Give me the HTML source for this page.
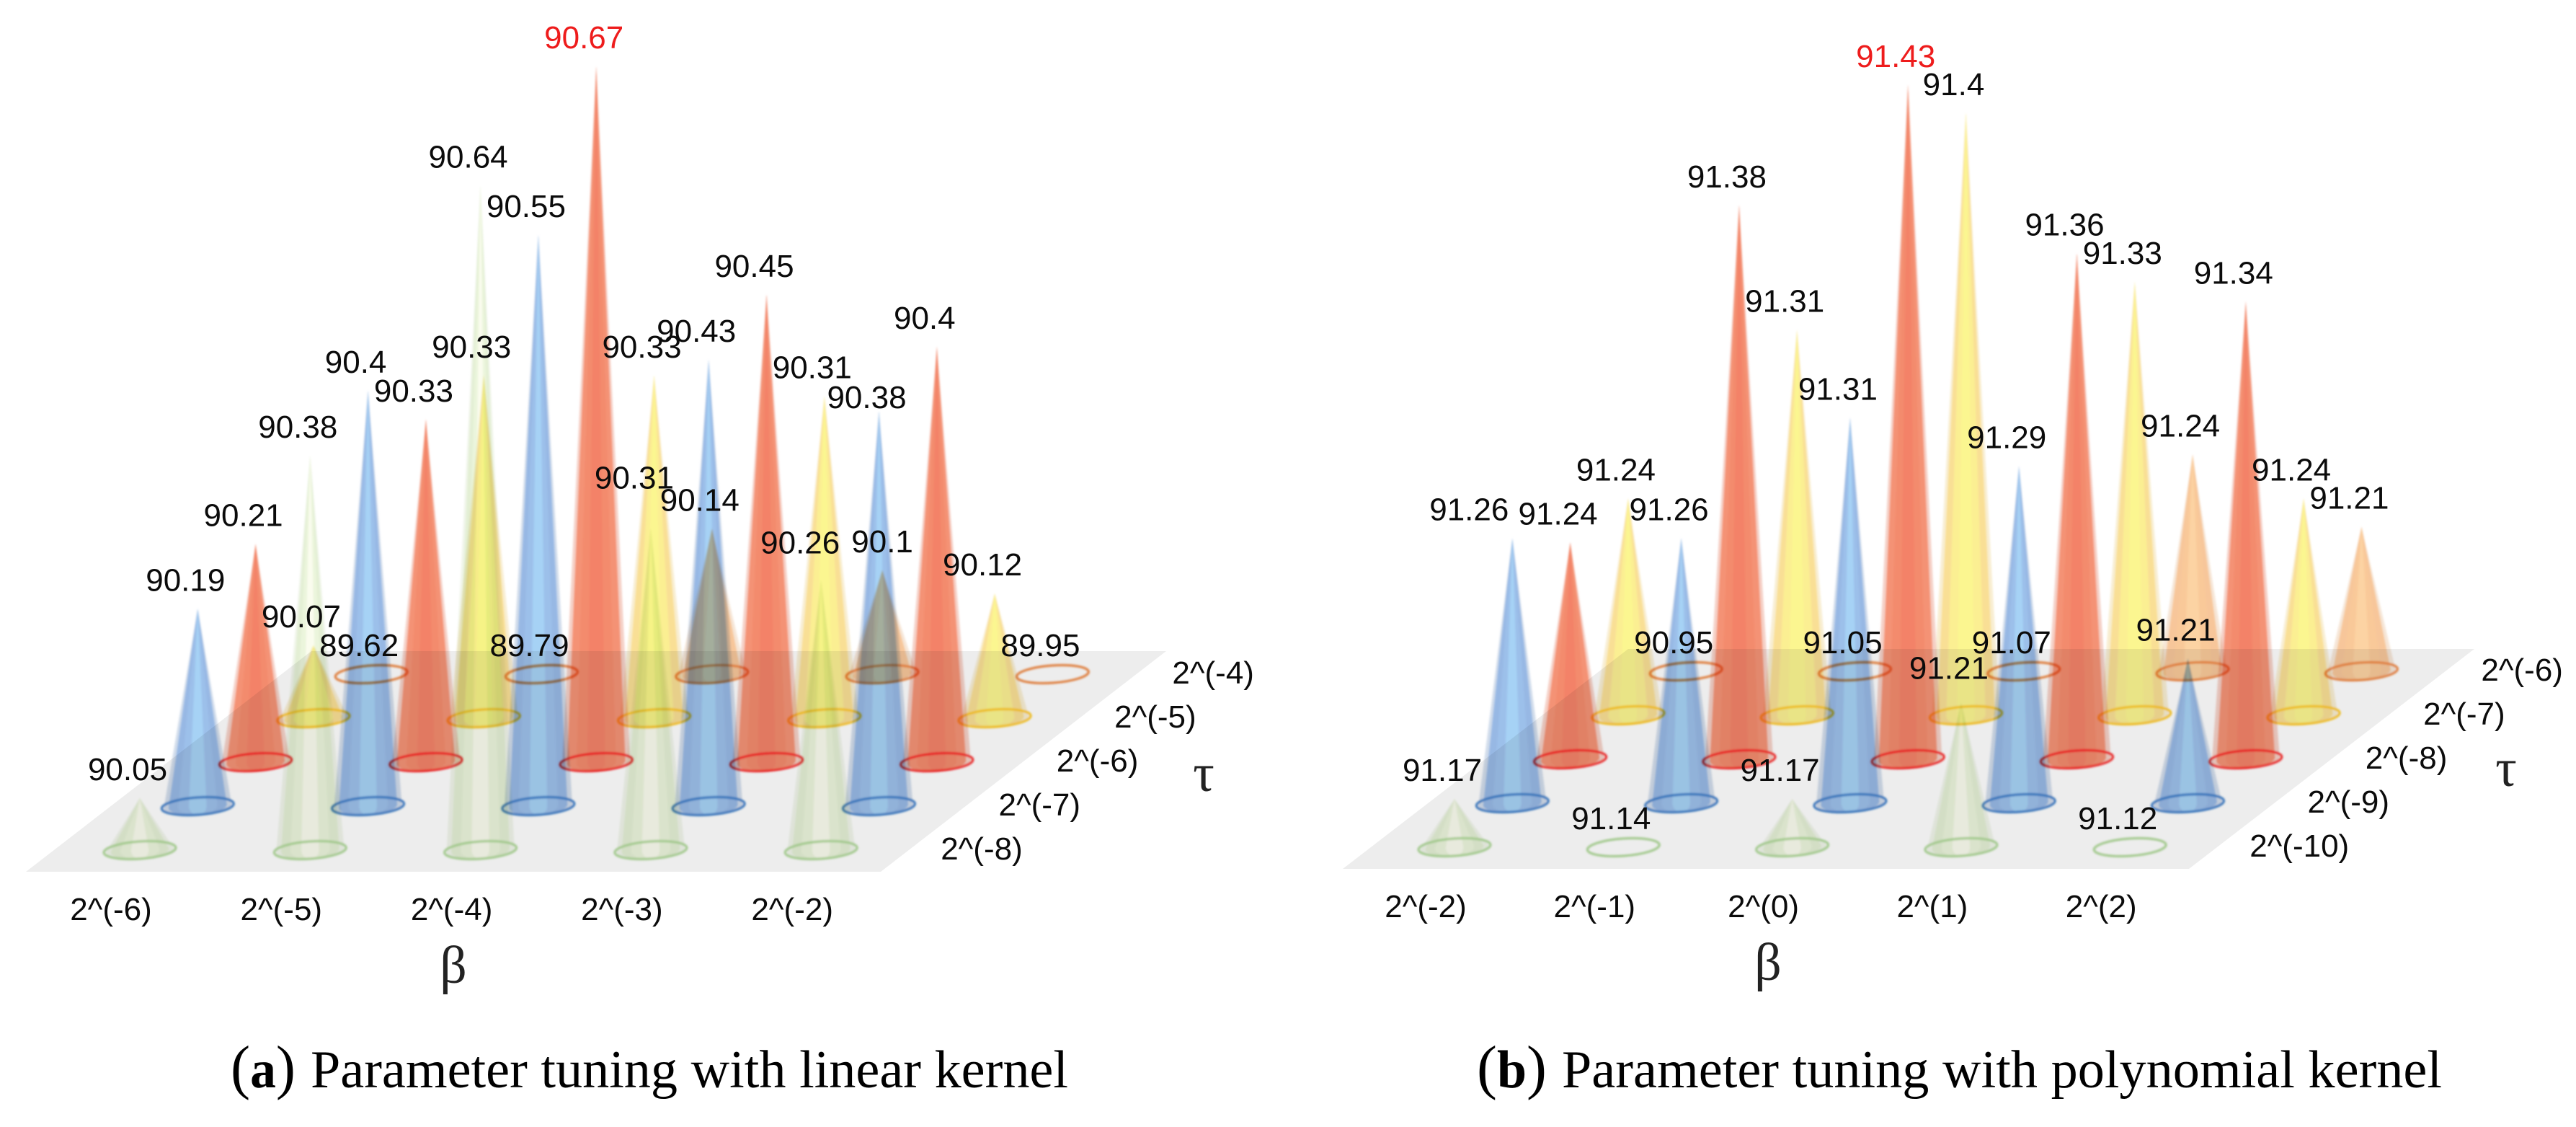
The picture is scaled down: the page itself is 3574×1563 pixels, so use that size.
<!DOCTYPE html>
<html lang="en">
<head>
<meta charset="utf-8">
<title>Parameter tuning cone charts</title>
<style>
html,body{margin:0;padding:0;background:#fff;}
body{width:3574px;height:1563px;overflow:hidden;}
svg{display:block;}
.val{font-family:"Liberation Sans",Arial,sans-serif;font-size:44px;fill:#0b0b0b;text-anchor:middle;}
.tick{font-family:"Liberation Sans",Arial,sans-serif;font-size:44px;fill:#0b0b0b;}
.sym{font-family:"Liberation Serif","DejaVu Serif",serif;font-size:74px;fill:#222;text-anchor:middle;}
.cap{font-family:"Liberation Serif",serif;font-size:74px;fill:#000;}
.cone{mix-blend-mode:multiply;}
</style>
</head>
<body>
<svg id="fig" width="3574" height="1563" viewBox="0 0 3574 1563" xmlns="http://www.w3.org/2000/svg">
  <defs>
    <filter id="soft" x="-30%" y="-10%" width="160%" height="120%"><feGaussianBlur stdDeviation="1.3"/></filter>
  </defs>
  <rect x="0" y="0" width="3574" height="1563" fill="#ffffff"/>
  <g id="panel-a"></g>
  <g id="panel-b"></g>
  <text class="cap" x="320" y="1508" textLength="90" lengthAdjust="spacingAndGlyphs"><tspan font-size="84">(</tspan><tspan font-weight="bold" font-size="74">a</tspan><tspan font-size="84">)</tspan></text>
  <text class="cap" x="431" y="1508" textLength="1051" lengthAdjust="spacingAndGlyphs">Parameter tuning with linear kernel</text>
  <text class="cap" x="2049" y="1508" textLength="97" lengthAdjust="spacingAndGlyphs"><tspan font-size="84">(</tspan><tspan font-weight="bold" font-size="74">b</tspan><tspan font-size="84">)</tspan></text>
  <text class="cap" x="2167" y="1508" textLength="1221" lengthAdjust="spacingAndGlyphs">Parameter tuning with polynomial kernel</text>
</svg>
<script>
// ---- chart data ----
const betaTicksA = ['2^(-6)', '2^(-5)', '2^(-4)', '2^(-3)', '2^(-2)'];
const tauTicksA = ['2^(-8)', '2^(-7)', '2^(-6)', '2^(-5)', '2^(-4)'];
const greenA = [90.05, 90.38, 90.64, 90.31, 90.26];
const blueA = [90.19, 90.4, 90.55, 90.43, 90.38];
const redA = [90.21, 90.33, 90.67, 90.45, 90.4];
const yellowA = [90.07, 90.33, 90.33, 90.31, 90.12];
const orangeA = [89.62, 89.79, 90.14, 90.1, 89.95];

const betaTicksB = ['2^(-2)', '2^(-1)', '2^(0)', '2^(1)', '2^(2)'];
const tauTicksB = ['2^(-10)', '2^(-9)', '2^(-8)', '2^(-7)', '2^(-6)'];
const greenB = [91.17, 91.14, 91.17, 91.21, 91.12];
const blueB = [91.26, 91.26, 91.31, 91.29, 91.21];
const redB = [91.24, 91.38, 91.43, 91.36, 91.34];
const yellowB = [91.24, 91.31, 91.4, 91.33, 91.24];
const orangeB = [90.95, 91.05, 91.07, 91.24, 91.21];

// ---- styling ----
const NS = 'http://www.w3.org/2000/svg';
const palette = [
  {name:'green',  ring:'#a9d690', layers:['#e6efdc','#e3efd4','#ebf5dc','#fafcee']},
  {name:'blue',   ring:'#2e75c6', layers:['#b2c4de','#97b8e4','#9cc0ea','#a6d2f5']},
  {name:'red',    ring:'#fa141a', layers:['#eeb0a0','#f49274','#f38b6d','#f38268']},
  {name:'yellow', ring:'#ffc510', layers:['#f3e3b4','#f9df95','#fbef92','#fbf690']},
  {name:'orange', ring:'#f08035', layers:['#f0d5bd','#f7c69a','#f9c999','#fcd3a3']}
];
const layerWidths = [1, 0.86, 0.58, 0.26];
const layerAlpha = [0.6, 1, 1, 1];

function el(tag, attrs, parent) {
  const node = document.createElementNS(NS, tag);
  for (const k in attrs) node.setAttribute(k, attrs[k]);
  parent.appendChild(node);
  return node;
}

function drawPanel(root, cfg) {
  // axis functions
  const xAt = (col, row) => cfg.x0 + col * cfg.colStep + row * 80.3;
  const yAt = row => cfg.y0 - row * 61;
  const heightOf = v => Math.max(0, (v - cfg.baseline) * cfg.scale);
  const peak = Math.max.apply(null, cfg.rows.flat());

  const floor = el('polygon', {
    points: [[cfg.floor[0], cfg.floorBottom], [cfg.floor[1], cfg.floorBottom],
             [cfg.floor[1] + 396, cfg.floorTop], [cfg.floor[0] + 396, cfg.floorTop]].join(' '),
    fill: '#ededed'
  }, root);
  
  

  // back row first, so front cones sit on top
  for (let row = cfg.rows.length - 1; row >= 0; row--) {
    cfg.rows[row].forEach((v, col) => {
      const c = palette[row];
      const cx = xAt(col, row), cy = yAt(row), h = heightOf(v);
      const g = el('g', {class: 'cone', filter: 'url(#soft)'}, root);
      
      
      if (h > 0) {
        layerWidths.forEach((f, i) => {
          const r = 47 * f;
          const d = 'M' + cx + ' ' + (cy - h) +
            'L' + (cx - r) + ' ' + (cy + r * 0.06) +
            'A' + r + ' 12.5 -4 0 0 ' + (cx + r) + ' ' + (cy - r * 0.06) + 'Z';
          const shade = el('path', {d: d, fill: c.layers[i], 'fill-opacity': layerAlpha[i]}, g);
          
          
        });
      }
      const ring = el('ellipse', {
        cx: cx, cy: cy, rx: 50, ry: 12,
        transform: 'rotate(-4 ' + cx + ' ' + cy + ')',
        fill: 'none', stroke: c.ring, 'stroke-width': 3.5, 'stroke-opacity': 0.85
      }, g);
      
      
    });
  }

  // value labels on top of every cone
  cfg.rows.forEach((values, row) => {
    values.forEach((v, col) => {
      const nudge = cfg.nudges[row + ',' + col] || [0, 0];
      const t = el('text', {
        class: 'val',
        x: xAt(col, row) - 17 + nudge[0],
        y: yAt(row) - heightOf(v) - 25 + nudge[1]
      }, root);
      if (v === peak) t.setAttribute('style', 'fill:#ee1c1c');
      
      
      t.textContent = String(v);
    });
  });

  // beta ticks along the front edge
  cfg.betaTicks.forEach((label, col) => {
    const t = el('text', {class: 'tick', 'text-anchor': 'middle', x: xAt(col, 0) - 40, y: cfg.betaTickY}, root);
    
    
    t.textContent = label;
  });
  // tau ticks along the right edge
  cfg.tauTicks.forEach((label, row) => {
    const t = el('text', {class: 'tick', x: xAt(cfg.betaTicks.length - 1, row) + 166, y: yAt(row) + 13}, root);
    
    
    t.textContent = label;
  });

  const beta = el('text', {class: 'sym', x: cfg.betaPos[0], y: cfg.betaPos[1]}, root);
  
  
  beta.textContent = '\u03B2';
  const tau = el('text', {class: 'sym', x: cfg.tauPos[0], y: cfg.tauPos[1]}, root);
  
  
  tau.textContent = '\u03C4';
}

drawPanel(document.getElementById('panel-a'), {
  rows: [greenA, blueA, redA, yellowA, orangeA],
  betaTicks: betaTicksA, tauTicks: tauTicksA,
  x0: 194, y0: 1179, colStep: 236.3,
  baseline: 90, scale: 1440,
  floor: [36, 1222], floorBottom: 1209, floorTop: 903,
  betaTickY: 1276, betaPos: [629, 1363], tauPos: [1670, 1097],
  nudges: {'1,4': [0, 20], '4,3': [17, 0], '0,4': [-12, -12], '0,3': [-6, -30]}
});
drawPanel(document.getElementById('panel-b'), {
  rows: [greenB, blueB, redB, yellowB, orangeB],
  betaTicks: betaTicksB, tauTicks: tauTicksB,
  x0: 2018, y0: 1175, colStep: 234.3,
  baseline: 91.15, scale: 3340,
  floor: [1863, 3037], floorBottom: 1205, floorTop: 900,
  betaTickY: 1272, betaPos: [2453, 1359], tauPos: [3477, 1090],
  nudges: {'1,0': [-43, 0], '0,3': [0, -8]}
});
</script>
</body>
</html>
